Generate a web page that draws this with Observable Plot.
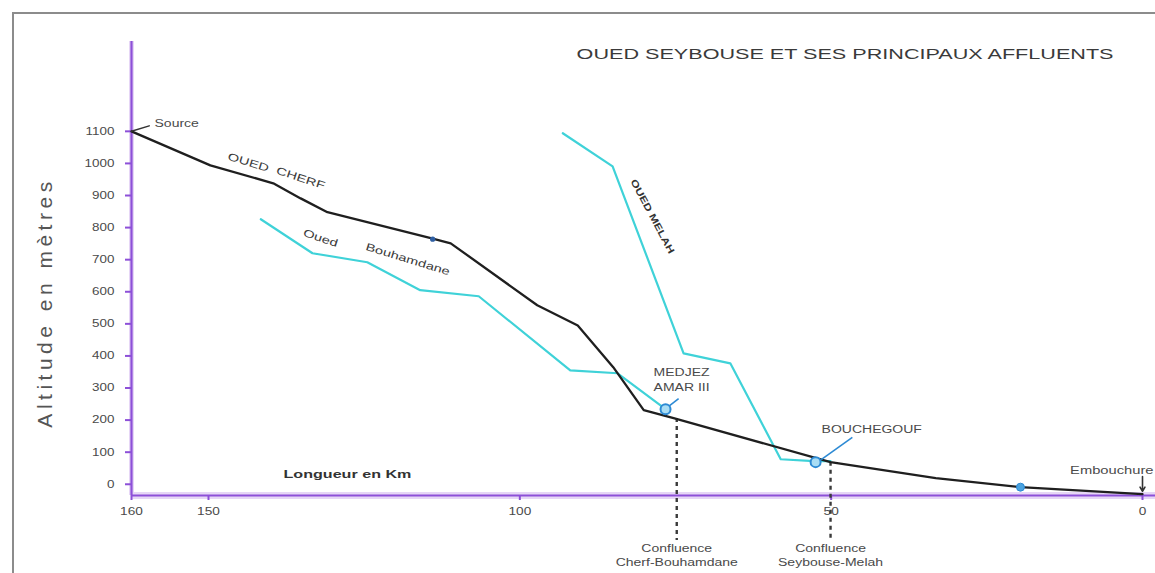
<!DOCTYPE html>
<html>
<head>
<meta charset="utf-8">
<script src="https://cdn.jsdelivr.net/npm/d3@7"></script>
<script src="https://cdn.jsdelivr.net/npm/@observablehq/plot@0.6"></script>
<style>
html, body { margin: 0; padding: 0; background: #fff; }
#wrap { position: relative; width: 1155px; height: 573px; overflow: hidden; background: #fff; }
#border { position: absolute; left: 12px; top: 12px; width: 1160px; height: 580px;
  border-left: 2px solid #8c8c8c; border-top: 2px solid #8c8c8c; pointer-events: none; z-index: 2; }
</style>
</head>
<body>
<div id="wrap"><div id="border"></div></div>
<script>
// ---------- data ----------
const chartTitle = "OUED SEYBOUSE ET SES PRINCIPAUX AFFLUENTS";
const yTitle = "Altitude en mètres";
const xTitle = "Longueur en Km";

const xTicks = [160, 150, 100, 50, 0];
const xTickLabels = ["160", "150", "100", "50", "0"];
const yTicks = [0, 100, 200, 300, 400, 500, 600, 700, 800, 900, 1000, 1100];

// Oued Cherf -> Seybouse (main stem), km from mouth / altitude m
const cherfKm  = [160, 149.7, 139.6, 135.2, 130.9, 114.3, 111.1, 97.2, 90.7, 85.0, 80.1, 75.3, 50.1, 33.2, 19.6, 0];
const cherfAlt = [1100, 994, 938, 891, 848, 767, 751, 558, 495, 365, 231, 206, 69, 19, -9, -31];

// Oued Bouhamdane
const bouhKm  = [141.6, 133.3, 124.5, 116.0, 106.6, 91.9, 84.3, 76.6];
const bouhAlt = [826, 720, 692, 605, 586, 355, 346, 234];

// Oued Melah
const melahKm  = [93.1, 85.1, 73.7, 66.2, 58.1, 52.8, 50.1];
const melahAlt = [1094, 991, 408, 377, 78, 72, 72];

// gauging stations
const stationNames = ["MEDJEZ AMAR III", "BOUCHEGOUF"];
const stationKm  = [76.6, 52.5];
const stationAlt = [234, 69];
const stationLine1 = ["MEDJEZ", "BOUCHEGOUF"];
const stationLine2 = ["AMAR III", ""];

// other point markers
const lowerMarkKm = [19.6];
const lowerMarkAlt = [-9];
const cherfMarkKm = [114.0];
const cherfMarkAlt = [764];

// leader lines (from station to label)
const leaderKm1  = [76.1, 51.6];
const leaderAlt1 = [243, 77];
const leaderKm2  = [74.5, 46.6];
const leaderAlt2 = [267, 146];

// confluences
const conflNames = ["Cherf-Bouhamdane", "Seybouse-Melah"];
const conflKm  = [74.8, 50.1];
const conflAlt = [205, 69];

// river name labels
const riverLabels = ["OUED", "CHERF", "Oued", "Bouhamdane", "OUED MELAH"];
const riverLabelKm  = [143.6, 135.2, 132.0, 118.0, 78.7];
const riverLabelAlt = [1003, 954, 767, 701, 835];
const riverLabelAngle = [17, 18, 18, 17, 62];

// source hook
const sourceHookKm  = [160, 157.7];
const sourceHookAlt = [1100, 1117];

// The drawn km axis is not uniform: the 160–150 segment is wider than the rest.
const WARP = 7.7 / 6.2267;
const X = km => km <= 150 ? km : 150 + (km - 150) * WARP;

// ---------- tables ----------
const zipXY = (xs, ys) => xs.map((x, i) => ({km: x, alt: ys[i]}));
const cherf = zipXY(cherfKm, cherfAlt);
const bouh = zipXY(bouhKm, bouhAlt);
const melah = zipXY(melahKm, melahAlt);
const stations = stationNames.map((n, i) => ({name: n, km: stationKm[i], alt: stationAlt[i], l1: stationLine1[i], l2: stationLine2[i]}));
const leaders = leaderKm1.map((k, i) => ({x1: k, y1: leaderAlt1[i], x2: leaderKm2[i], y2: leaderAlt2[i]}));
const confl = conflNames.map((n, i) => ({name: n, km: conflKm[i], alt: conflAlt[i]}));
const rlabels = riverLabels.map((t, i) => ({t, km: riverLabelKm[i], alt: riverLabelAlt[i], a: riverLabelAngle[i]}));
const source = cherf[0];
const mouth = cherf[cherf.length - 1];
const xk = d => X(d.km);

const PURPLE = "#8d50d8";
const HALO = "#e6d6f6";
const CYAN = "#3fd2d8";
const BLACK = "#1f1f1f";
const BLUE = "#2d8ad4";
const TEXT = "#4a4a4a";
const FONT = "'Liberation Sans', Arial, Helvetica, sans-serif";

const plot = Plot.plot({
  width: 1155,
  height: 573,
  marginLeft: 131,
  marginRight: 13,
  marginTop: 41,
  marginBottom: 78,
  style: {fontFamily: FONT, background: "transparent"},
  x: {domain: [X(160), 0]},
  y: {domain: [-35, 1380]},
  marks: [
    // axis lines
    Plot.ruleY([-35], {x1: X(160), x2: -2.2, stroke: HALO, strokeWidth: 7}),
    Plot.ruleX([X(160)], {stroke: HALO, strokeWidth: 5}),
    Plot.ruleY([-35], {x1: X(160), x2: -2.2, stroke: PURPLE, strokeWidth: 2.2}),
    Plot.ruleX([X(160)], {stroke: PURPLE, strokeWidth: 2.2}),
    Plot.axisY({ticks: yTicks, tickSize: 6, tickPadding: 11, stroke: PURPLE, strokeWidth: 2,
      fill: TEXT, fontSize: 10.5, label: null, tickFormat: d => String(d)}),
    Plot.axisX({ticks: xTicks.map(X), tickSize: 5, tickPadding: 7, stroke: PURPLE, strokeWidth: 2,
      fill: TEXT, fontSize: 10.5, label: null, tickFormat: (d, i) => xTickLabels[i]}),

    // confluence dotted drops
    Plot.ruleX(confl, {x: xk, y1: "alt", y2: -175, stroke: "#3a3a3a", strokeWidth: 2.4, strokeDasharray: "4,4"}),

    // rivers
    Plot.line(bouh, {x: xk, y: "alt", stroke: CYAN, strokeWidth: 2.2}),
    Plot.line(melah, {x: xk, y: "alt", stroke: CYAN, strokeWidth: 2.2}),
    Plot.line(cherf, {x: xk, y: "alt", stroke: BLACK, strokeWidth: 2.3, strokeLinejoin: "round"}),

    // source hook & embouchure arrow
    Plot.line(zipXY(sourceHookKm, sourceHookAlt), {x: xk, y: "alt", stroke: "#333", strokeWidth: 1.5}),
    Plot.arrow([mouth], {x1: xk, x2: xk, y1: 24, y2: -22, stroke: "#333", strokeWidth: 1.6, headLength: 6}),

    // leaders
    Plot.link(leaders, {x1: d => X(d.x1), y1: "y1", x2: d => X(d.x2), y2: "y2", stroke: BLUE, strokeWidth: 1.6}),

    // markers
    Plot.dot(stations, {x: xk, y: "alt", r: 5, stroke: BLUE, strokeWidth: 2, fill: "#a9ddf4"}),
    Plot.dot(zipXY(lowerMarkKm, lowerMarkAlt), {x: xk, y: "alt", r: 4, fill: "#4aa3e0", stroke: "#2d8ad4", strokeWidth: 1}),
    Plot.dot(zipXY(cherfMarkKm, cherfMarkAlt), {x: xk, y: "alt", r: 2.6, fill: "#2f5fa3"}),

    // texts
    Plot.text([chartTitle], {frameAnchor: "top-right", dx: -29, dy: 7, textAnchor: "end",
      fontSize: 15, fill: "#3a3a3a"}),
    Plot.text([yTitle], {frameAnchor: "left", dx: -86, dy: 34, rotate: -90, textAnchor: "middle", fontSize: 21,
      fill: "#555"}),
    Plot.text([xTitle], {frameAnchor: "bottom-left", dx: 152, dy: -18, textAnchor: "start",
      fontSize: 11.5, fontWeight: "bold", fill: "#333"}),
    Plot.text([source], {x: xk, y: "alt", text: () => "Source", dx: 23, dy: -8, textAnchor: "start",
      fontSize: 10, fill: TEXT}),
    Plot.text([mouth], {x: xk, y: "alt", text: () => "Embouchure", dx: 11, dy: -24, textAnchor: "end",
      fontSize: 10.5, fill: TEXT}),
    Plot.text(rlabels.slice(0, 4), {x: xk, y: "alt", text: "t", rotate: "a", fontSize: 10.5,
      fill: "#3a3a3a"}),
    Plot.text(rlabels.slice(4), {x: xk, y: "alt", text: "t", rotate: "a", fontSize: 9.5,
      fill: "#333", fontWeight: "bold"}),
    Plot.text(stations.slice(0, 1), {x: xk, y: "alt", text: "l1", dx: 16, dy: -36, fontSize: 10, fill: TEXT}),
    Plot.text(stations.slice(0, 1), {x: xk, y: "alt", text: "l2", dx: 16, dy: -21, fontSize: 10, fill: TEXT}),
    Plot.text(stations.slice(1), {x: xk, y: "alt", text: "l1", dx: 6, dy: -32, textAnchor: "start",
      fontSize: 10, fill: TEXT}),
    Plot.text(confl, {x: xk, frameAnchor: "bottom", dy: 56, text: () => "Confluence", fontSize: 10,
      textAnchor: "middle", fill: TEXT}),
    Plot.text(confl, {x: xk, frameAnchor: "bottom", dy: 70, text: "name", fontSize: 10,
      textAnchor: "middle", fill: TEXT})
  ]
});

document.getElementById("wrap").appendChild(plot);

// The reference's lettering is horizontally widened: stretch glyphs accordingly
const stretchByText = new Map([[chartTitle, 1.44], [yTitle, 1], ["OUED MELAH", 1.3]]);
plot.querySelectorAll("text").forEach(t => {
  const content = t.textContent.trim();
  const inYAxis = !!t.closest('g[aria-label="y-axis tick label"]');
  const inXAxis = !!t.closest('g[aria-label="x-axis tick label"]');
  let f = 1.4;
  if (stretchByText.has(content)) f = stretchByText.get(content);
  else if (inYAxis) f = 1.28;
  else if (inXAxis) f = 1.3;
  if (content === yTitle) { t.style.letterSpacing = "4.5px"; }
  if (f === 1) return;
  const spans = t.querySelectorAll("tspan");
  const els = spans.length ? Array.from(spans) : [t];
  els.forEach(el => {
    const L = el.getComputedTextLength();
    if (L > 0) {
      el.setAttribute("textLength", (L * f).toFixed(1));
      el.setAttribute("lengthAdjust", "spacingAndGlyphs");
    }
  });
});
</script>
</body>
</html>
